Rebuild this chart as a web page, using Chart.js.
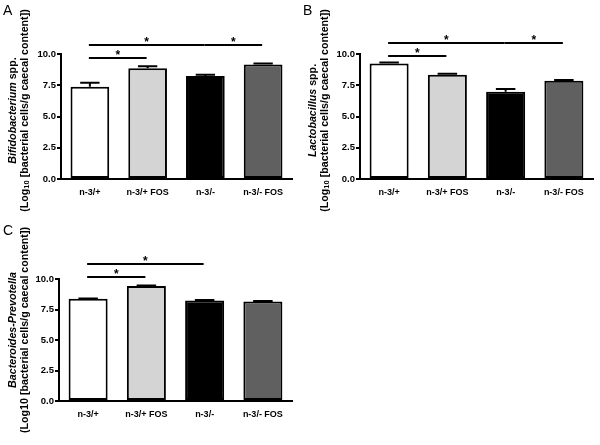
<!DOCTYPE html>
<html>
<head>
<meta charset="utf-8">
<script src="https://cdn.jsdelivr.net/npm/chart.js@4.4.1/dist/chart.umd.min.js"></script>
<style>
  body { margin: 0; background: #fff; }
  #wrap { position: relative; width: 600px; height: 445px; overflow: hidden; background: #fff; }
  canvas { position: absolute; }
  .panel { position: absolute; font: 14px 'Liberation Sans', Arial, sans-serif; color: #000; }
</style>
</head>
<body>
<div id="wrap">
  <canvas id="chartA" width="300" height="218" style="left:0;top:0;"></canvas>
  <canvas id="chartB" width="300" height="218" style="left:300px;top:0;"></canvas>
  <canvas id="chartC" width="300" height="225" style="left:0;top:220px;"></canvas>
  <div class="panel" style="left:3px;top:2px;">A</div>
  <div class="panel" style="left:303px;top:2px;">B</div>
  <div class="panel" style="left:3px;top:222px;">C</div>
</div>
<script>
const categories = ['n-3/+', 'n-3/+ FOS', 'n-3/-', 'n-3/- FOS'];
const barColors = ['#ffffff', '#d4d4d4', '#000000', '#606060'];
const yTicks = [0, 2.5, 5, 7.5, 10];

// Bifidobacterium (panel A)
const bifidoMeans = [7.38, 8.86, 8.24, 9.17];
const bifidoSem = [0.32, 0.17, 0.1, 0.08];
// Lactobacillus (panel B)
const lactoMeans = [9.25, 8.35, 6.98, 7.86];
const lactoSem = [0.08, 0.07, 0.22, 0.07];
// Bacteroides-Prevotella (panel C)
const bactMeans = [8.38, 9.43, 8.23, 8.15];
const bactSem = [0.02, 0.03, 0.05, 0.04];

// significance brackets: [from, to, level]
const bifidoSig = [[0, 1, 9.67], [0, 2, 10.7], [2, 3, 10.7]];
const lactoSig = [[0, 1, 9.86], [0, 2, 10.9], [2, 3, 10.9]];
const bactSig = [[0, 1, 10.2], [0, 2, 11.25]];

const FONT = "'Liberation Sans', Arial, sans-serif";

const errorBars = {
  id: 'errorBars',
  afterDatasetsDraw(chart, args, opts) {
    const ctx = chart.ctx;
    const meta = chart.getDatasetMeta(0);
    const y = chart.scales.y;
    ctx.save();
    ctx.strokeStyle = '#000';
    ctx.lineWidth = 2;
    meta.data.forEach((bar, i) => {
      const top = y.getPixelForValue(opts.means[i] + opts.sem[i]);
      const half = bar.width / 4;
      ctx.beginPath();
      ctx.moveTo(bar.x, bar.y);
      ctx.lineTo(bar.x, top);
      ctx.moveTo(bar.x - half, top);
      ctx.lineTo(bar.x + half, top);
      ctx.stroke();
    });
    ctx.restore();
  }
};

const sigLines = {
  id: 'sigLines',
  afterDraw(chart, args, opts) {
    const ctx = chart.ctx;
    const x = chart.scales.x;
    const y = chart.scales.y;
    ctx.save();
    ctx.strokeStyle = '#000';
    ctx.fillStyle = '#000';
    ctx.lineWidth = 2;
    ctx.font = 'bold 12px ' + FONT;
    ctx.textAlign = 'center';
    ctx.textBaseline = 'alphabetic';
    opts.lines.forEach(([a, b, lv]) => {
      const py = Math.round(y.getPixelForValue(lv));
      const x1 = x.getPixelForValue(a) - 1;
      const x2 = x.getPixelForValue(b) - 1;
      ctx.beginPath();
      ctx.moveTo(x1, py);
      ctx.lineTo(x2, py);
      ctx.stroke();
      ctx.fillText('*', (x1 + x2) / 2, py + 1);
    });
    ctx.restore();
  }
};

const yTitle = {
  id: 'yTitle',
  afterDraw(chart, args, opts) {
    const ctx = chart.ctx;
    const area = chart.chartArea;
    const cy = (area.top + area.bottom) / 2 + opts.shift;
    ctx.save();
    ctx.fillStyle = '#000';
    ctx.textBaseline = 'middle';
    opts.lines.forEach((parts, li) => {
      const cx = opts.xs[li];
      let total = 0;
      const seg = parts.map(p => {
        const size = p.sub ? 7.5 : 10.7;
        const f = (p.it ? 'italic ' : '') + 'bold ' + size + 'px ' + FONT;
        ctx.font = f;
        const w = ctx.measureText(p.t).width;
        total += w;
        return { f, w, p };
      });
      ctx.save();
      ctx.translate(cx, cy);
      ctx.rotate(-Math.PI / 2);
      let pos = -total / 2;
      seg.forEach(s => {
        ctx.font = s.f;
        ctx.textAlign = 'left';
        ctx.fillText(s.p.t, pos, s.p.sub ? 2 : 0);
        pos += s.w;
      });
      ctx.restore();
    });
    ctx.restore();
  }
};

function makeChart(id, means, sem, sig, titleLines, layout) {
  new Chart(document.getElementById(id), {
    type: 'bar',
    data: {
      labels: categories,
      datasets: [{
        data: means,
        backgroundColor: barColors,
        borderColor: '#000',
        borderWidth: 2,
        borderSkipped: false,
        barPercentage: 0.67,
        categoryPercentage: 1
      }]
    },
    options: {
      responsive: false,
      animation: false,
      devicePixelRatio: 1,
      layout: { padding: { left: 0, right: layout.right, top: layout.top, bottom: 0 } },
      plugins: {
        legend: { display: false },
        tooltip: { enabled: false },
        errorBars: { means: means, sem: sem },
        sigLines: { lines: sig },
        yTitle: { lines: titleLines, xs: layout.titleX, shift: layout.shift }
      },
      scales: {
        x: {
          grid: { display: false },
          border: { display: true, color: '#000', width: 2 },
          ticks: { color: '#000', font: { family: FONT, size: 9, weight: 'bold' }, padding: 0, maxRotation: 0 },
          afterFit(s) { s.height = layout.xh; }
        },
        y: {
          min: 0,
          max: 10,
          afterBuildTicks(s) { s.ticks = yTicks.map(v => ({ value: v })); },
          grid: { display: true, drawOnChartArea: false, drawTicks: true, tickLength: 4, color: '#000', lineWidth: 2 },
          border: { display: true, color: '#000', width: 2 },
          ticks: {
            color: '#000', padding: 1,
            font: { family: FONT, size: 9.5, weight: 'bold' },
            callback: v => Number(v).toFixed(1)
          },
          afterFit(s) { s.width = layout.yw; }
        }
      }
    },
    plugins: [errorBars, sigLines, yTitle]
  });
}

const logLine = [{ t: '(Log' }, { t: '10', sub: true }, { t: ' [bacterial cells/g caecal content])' }];

makeChart('chartA', bifidoMeans, bifidoSem, bifidoSig,
  [[{ t: 'Bifidobacterium', it: true }, { t: ' spp.' }], logLine],
  { right: 8, top: 54, xh: 39, yw: 61, titleX: [13, 25], shift: -6 });

makeChart('chartB', lactoMeans, lactoSem, lactoSig,
  [[{ t: 'Lactobacillus', it: true }, { t: ' spp.' }], logLine],
  { right: 7, top: 54, xh: 39, yw: 60, titleX: [13, 25], shift: -6 });

makeChart('chartC', bactMeans, bactSem, bactSig,
  [[{ t: 'Bacteroides-Prevotella', it: true }], [{ t: '(Log10 [bacterial cells/g caecal content])' }]],
  { right: 8, top: 59, xh: 44, yw: 59, titleX: [13, 25], shift: -10 });
</script>
</body>
</html>
